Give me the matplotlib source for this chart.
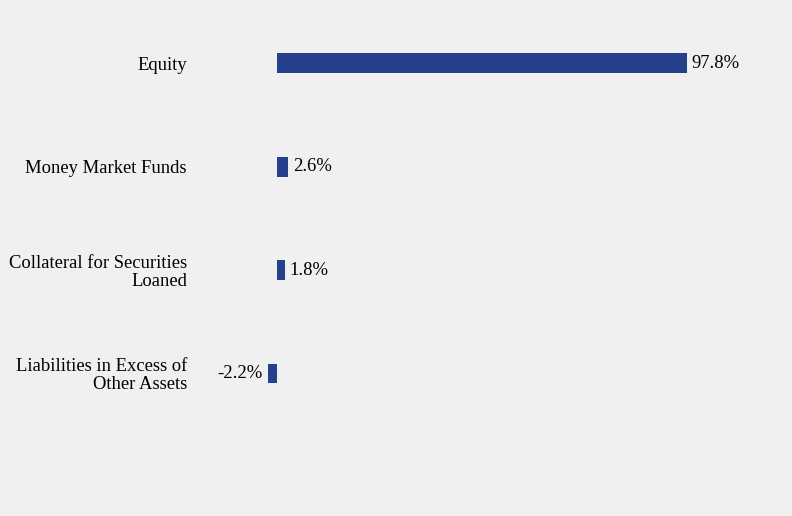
import matplotlib.pyplot as plt

categories = ['Equity', 'Money Market Funds', 'Collateral for Securities\nLoaned',
              'Liabilities in Excess of\nOther Assets']
values = [97.8, 2.6, 1.8, -2.2]
value_labels = ['97.8%', '2.6%', '1.8%', '-2.2%']

plt.rcParams['font.family'] = ['Liberation Serif', 'DejaVu Serif']

fig = plt.figure(figsize=(7.92, 5.16), dpi=100, facecolor='#f0f0f0')
# axes span from x=195px to the right edge, full height
ax = fig.add_axes([195 / 792, 0, 1 - 195 / 792, 1])
ax.set_facecolor('#f0f0f0')

pos = list(range(len(categories)))
ax.barh(pos, values, height=0.193, color='#26418c')

ax.set_xlim(-19.57, 122.9)
ax.set_ylim(4.377, -0.609)

fs = 13.4
for p, v, lab in zip(pos, values, value_labels):
    if v >= 0:
        ax.annotate(lab, (v, p), xytext=(3.6, 0), textcoords='offset points',
                    ha='left', va='center', fontsize=fs)
    else:
        ax.annotate(lab, (v, p), xytext=(-3.6, 0), textcoords='offset points',
                    ha='right', va='center', fontsize=fs)

ax.set_yticks(pos)
ax.set_yticklabels(categories, fontsize=fs, linespacing=1.05)
ax.tick_params(axis='y', length=0, pad=5.8)
ax.set_xticks([])
for s in ax.spines.values():
    s.set_visible(False)

fig.savefig('out.png', dpi=100, facecolor='#f0f0f0')
